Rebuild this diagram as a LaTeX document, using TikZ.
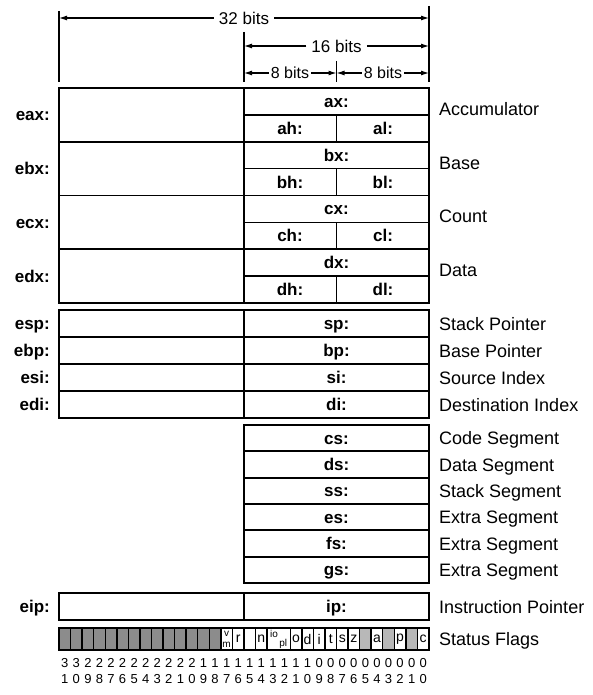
\documentclass[tikz,border=0pt]{standalone}
\usepackage{fontspec}
\setmainfont{Liberation Sans}
\usetikzlibrary{arrows.meta}

\begin{document}
\begin{tikzpicture}[x=1pt,y=-1pt,
  box/.style={line width=1.9pt},
  split/.style={line width=1.4pt},
  tickline/.style={line width=1.5pt},
  dim/.style={line width=1.1pt,-{Latex[length=8pt,width=5pt]}},
  widthlbl/.style={font=\fontsize{17}{17}\selectfont,inner sep=5pt},
  reglbl/.style={font=\bfseries\fontsize{17}{17}\selectfont,inner sep=0pt,text height=12pt,text depth=0pt},
  namelbl/.style={reglbl,anchor=east},
  sidelbl/.style={font=\fontsize{18}{18}\selectfont,inner sep=0pt,anchor=west,text height=13pt,text depth=0pt},
  flagtxt/.style={font=\fontsize{14}{14}\selectfont,inner sep=0pt},
  flagsmall/.style={font=\fontsize{10}{10}\selectfont,inner sep=0pt},
  bitnum/.style={font=\fontsize{13}{13}\selectfont,inner sep=0pt}]
  \useasboundingbox (0,0) rectangle (592,695);

  % widths on top
  \draw[tickline] (59,11) -- (59,82);
  \draw[tickline] (244,32) -- (244,82);
  \draw[tickline] (336.5,61) -- (336.5,82);
  \draw[tickline] (429,6) -- (429,82);
  \coordinate (w32l) at (59,18);
  \coordinate (w32r) at (429,18);
  \coordinate (w16l) at (244,46);
  \coordinate (w16r) at (429,46);
  \coordinate (w8al) at (244,73);
  \coordinate (w8ar) at (336.5,73);
  \coordinate (w8bl) at (336.5,73);
  \coordinate (w8br) at (429,73);
  \node[widthlbl] (w32) at (244,18) {32 bits};
  \node[widthlbl] (w16) at (336.5,46) {16 bits};
  \node[widthlbl,font=\fontsize{16}{16}\selectfont,inner sep=2pt] (w8a) at (290,73) {8 bits};
  \node[widthlbl,font=\fontsize{16}{16}\selectfont,inner sep=2pt] (w8b) at (383,73) {8 bits};
  \draw[dim] (w32) -- (w32l);
  \draw[dim] (w32) -- (w32r);
  \draw[dim] (w16) -- (w16l);
  \draw[dim] (w16) -- (w16r);
  \draw[dim] (w8a) -- (w8al);
  \draw[dim] (w8a) -- (w8ar);
  \draw[dim] (w8b) -- (w8bl);
  \draw[dim] (w8b) -- (w8br);

  % general registers
  \foreach \reg/\desc [count=\i from 0] in {a/Accumulator,b/Base,c/Count,d/Data}{
    \pgfmathsetmacro{\yt}{88+\i*53.75}
    \pgfmathsetmacro{\ym}{\yt+26.875}
    \pgfmathsetmacro{\yb}{\yt+53.75}
    \draw[box] (59,\yt) rectangle (429,\yb);
    \draw[split] (244,\yt) -- (244,\yb);
    \draw[split] (244,\ym) -- (429,\ym);
    \draw[split] (336.5,\ym) -- (336.5,\yb);
    \node[reglbl] (\reg-x) at (336.5,\yt+13.4) {\reg{}x:};
    \node[reglbl] (\reg-h) at (290,\ym+13.4) {\reg{}h:};
    \node[reglbl] (\reg-l) at (383,\ym+13.4) {\reg{}l:};
    \node[namelbl] (e\reg-x) at (50,\ym) {e\reg{}x:};
    \node[sidelbl] (\reg-desc) at (439,\ym-6) {\desc};
  }

  % pointer and index registers
  \foreach \reg/\desc [count=\i from 0] in {sp/Stack Pointer,bp/Base Pointer,si/Source Index,di/Destination Index}{
    \pgfmathsetmacro{\yt}{310+\i*27}
    \draw[box] (59,\yt) rectangle (429,\yt+27);
    \draw[split] (244,\yt) -- (244,\yt+27);
    \node[reglbl] (\reg) at (336.5,\yt+13.5) {\reg:};
    \node[namelbl] (e\reg) at (50,\yt+13.5) {e\reg:};
    \node[sidelbl] (\reg-desc) at (439,\yt+13.5) {\desc};
  }

  % segment registers
  \foreach \reg/\desc [count=\i from 0] in {cs/Code Segment,ds/Data Segment,ss/Stack Segment,es/Extra Segment,fs/Extra Segment,gs/Extra Segment}{
    \pgfmathsetmacro{\yt}{425+\i*26.33}
    \draw[box] (244,\yt) rectangle (429,\yt+26.33);
    \node[reglbl] (\reg) at (336.5,\yt+13.2) {\reg:};
    \node[sidelbl] (\reg-desc) at (439,\yt+13.2) {\desc};
  }

  % instruction pointer
  \draw[box] (59,593) rectangle (429,620);
  \draw[split] (244,593) -- (244,620);
  \node[reglbl] (ip) at (336.5,606.5) {ip:};
  \node[namelbl] (eip) at (50,606.5) {eip:};
  \node[sidelbl] (ip-desc) at (439,606.5) {Instruction Pointer};

  % status flags
  \def\bw{11.5625}
  \foreach \b in {18,...,31}
    \fill[black!45] (429-\b*\bw-\bw,628) rectangle (429-\b*\bw,650);
  \foreach \b in {1,3,5}
    \fill[black!28] (429-\b*\bw-\bw,628) rectangle (429-\b*\bw,650);
  \foreach \b in {1,...,12,14,15,...,31}
    \draw[split] (429-\b*\bw,628) -- (429-\b*\bw,650);
  \draw[box] (59,628) rectangle (429,650);
  \foreach \b/\f in {16/r,14/n,11/o,10/d,9/i,8/t,7/s,6/z,4/a,2/p,0/c}
    \node[flagtxt] (flag\b) at (429-\b*\bw-0.5*\bw,639) {\f};
  \node[flagsmall] (flag17v) at (429-17.5*\bw,634) {v};
  \node[flagsmall] (flag17m) at (429-17.5*\bw,645) {m};
  \node[flagsmall] (flag13) at (429-13.4*\bw,634) {io};
  \node[flagsmall] (flag12) at (429-12.6*\bw,644) {pl};
  \node[sidelbl] (flags-desc) at (439,639) {Status Flags};

  % bit numbers
  \foreach \b in {0,...,31}{
    \pgfmathtruncatemacro{\tens}{\b/10}
    \pgfmathtruncatemacro{\units}{mod(\b,10)}
    \node[bitnum] (hi\b) at (429-\b*\bw-0.5*\bw,663) {\tens};
    \node[bitnum] (lo\b) at (429-\b*\bw-0.5*\bw,679) {\units};
  }
\end{tikzpicture}
\end{document}
